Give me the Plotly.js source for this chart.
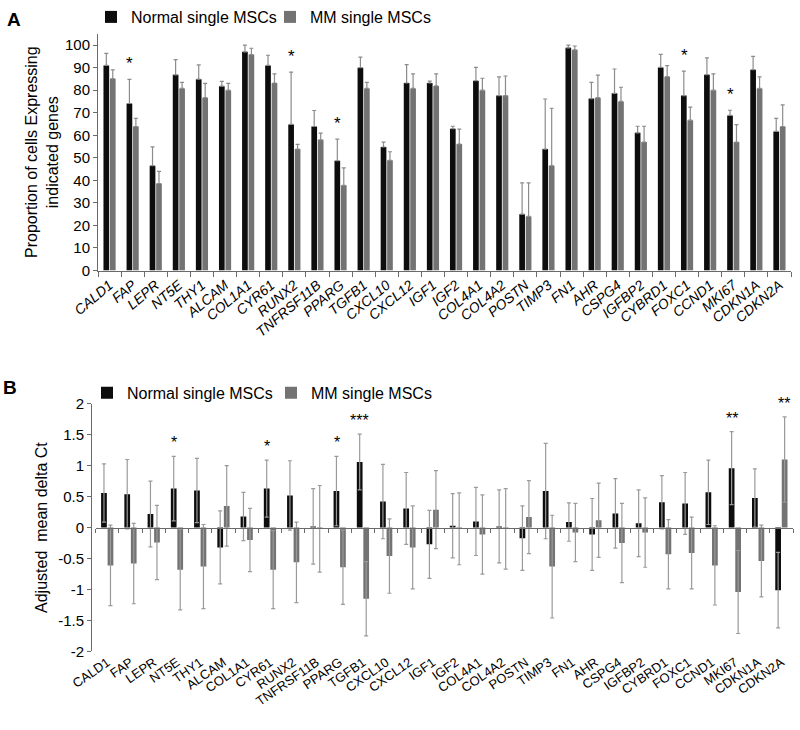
<!DOCTYPE html>
<html>
<head>
<meta charset="utf-8">
<script src="https://cdn.plot.ly/plotly-3.0.1.min.js"></script>
<style>html,body{margin:0;padding:0;background:#fff;}#chart{width:800px;height:730px;}</style>
</head>
<body>
<div id="chart"></div>
<script>
// ---------- DATA ----------
var genes = ['CALD1','FAP','LEPR','NT5E','THY1','ALCAM','COL1A1','CYR61','RUNX2','TNFRSF11B','PPARG','TGFB1','CXCL10','CXCL12','IGF1','IGF2','COL4A1','COL4A2','POSTN','TIMP3','FN1','AHR','CSPG4','IGFBP2','CYBRD1','FOXC1','CCND1','MKI67','CDKN1A','CDKN2A'];
var seriesNames = ['Normal single MSCs', 'MM single MSCs'];

// Panel A: proportion of cells expressing (%), with upper error
var normalA    = [91, 74.1, 46.5, 86.8, 84.9, 81.8, 97, 91, 64.8, 63.9, 48.7, 90, 54.8, 83.2, 83.2, 62.9, 84.2, 77.6, 25, 53.9, 98.8, 76.3, 78.6, 61.1, 90.1, 77.6, 86.9, 68.8, 89.1, 61.7];
var normalAErr = [5.3, 10.7, 8.4, 6.8, 6.3, 2.1, 3, 4.5, 23.2, 7.1, 9.6, 4.7, 2.2, 8.1, 0.8, 1.1, 5.9, 8.3, 13.9, 22.2, 1.2, 7.2, 10.8, 2.9, 5.8, 10.9, 7.4, 2.3, 5.9, 5.8];
var mmA        = [85.1, 63.9, 38.6, 80.8, 76.7, 80, 95.8, 83.2, 53.9, 58, 37.8, 80.8, 48.9, 80.8, 81.9, 56.1, 80, 77.6, 24, 46.5, 97.9, 76.7, 75, 57, 86, 66.7, 80, 57, 80.8, 63.9];
var mmAErr     = [3.9, 3.6, 5.4, 2.7, 6.3, 3, 2.8, 4, 2.1, 3, 7.7, 2.7, 3.8, 6.4, 5.3, 6.6, 5.3, 8.7, 14.9, 25.5, 1.7, 10, 6.3, 7, 4.9, 5.8, 7.2, 7.7, 5.1, 9.6];
var sigA       = ['', '*', '', '', '', '', '', '', '*', '', '*', '', '', '', '', '', '', '', '', '', '', '', '', '', '', '*', '', '*', '', ''];

// Panel B: adjusted mean delta Ct, symmetric error
var normalB    = [0.56, 0.54, 0.22, 0.63, 0.60, -0.32, 0.18, 0.63, 0.52, 0.02, 0.59, 1.06, 0.42, 0.31, -0.27, 0.03, 0.10, 0.02, -0.17, 0.59, 0.09, -0.11, 0.23, 0.07, 0.41, 0.39, 0.57, 0.96, 0.48, -1.01];
var normalBErr = [0.47, 0.56, 0.53, 0.52, 0.52, 0.59, 0.39, 0.46, 0.56, 0.61, 0.56, 0.45, 0.60, 0.58, 0.55, 0.52, 0.55, 0.59, 0.52, 0.77, 0.31, 0.58, 0.56, 0.54, 0.43, 0.50, 0.52, 0.59, 0.47, 0.61];
var mmB        = [-0.61, -0.58, -0.24, -0.68, -0.63, 0.35, -0.20, -0.68, -0.56, -0.02, -0.64, -1.15, -0.46, -0.32, 0.29, -0.02, -0.11, -0.02, 0.17, -0.63, -0.08, 0.12, -0.25, -0.08, -0.43, -0.41, -0.61, -1.04, -0.54, 1.10];
var mmBErr     = [0.65, 0.65, 0.60, 0.65, 0.68, 0.65, 0.51, 0.63, 0.65, 0.70, 0.60, 0.60, 0.60, 0.67, 0.63, 0.58, 0.64, 0.65, 0.59, 0.83, 0.47, 0.60, 0.64, 0.56, 0.56, 0.58, 0.64, 0.67, 0.58, 0.69];
var sigB       = ['', '', '', '*', '', '', '', '*', '', '', '*', '***', '', '', '', '', '', '', '', '', '', '', '', '', '', '', '', '**', '', '**'];

var yTicksA = [0, 10, 20, 30, 40, 50, 60, 70, 80, 90, 100];
var yTicksB = [-2, -1.5, -1, -0.5, 0, 0.5, 1, 1.5, 2];
var yTickTextB = ['-2', '-1.5', '-1', '-0.5', '0', '0.5', '1', '1.5', '2'];

// ---------- STYLE ----------
var FONT = 'Liberation Sans, Arial, sans-serif';
var BLACK = '#0d0d0d', GRAY = '#737373', ERR = '#8c8c8c', AXIS = '#6a6a6a';
var zerosA = genes.map(function(){ return 0; });

var traces = [
  {type:'bar', name:seriesNames[0], x:genes, y:normalA, xaxis:'x', yaxis:'y', legend:'legend',
   marker:{color:BLACK}, error_y:{type:'data', symmetric:false, array:normalAErr, arrayminus:zerosA, color:ERR, thickness:1.2, width:2}},
  {type:'bar', name:seriesNames[1], x:genes, y:mmA, xaxis:'x', yaxis:'y', legend:'legend2',
   marker:{color:GRAY}, error_y:{type:'data', symmetric:false, array:mmAErr, arrayminus:zerosA, color:ERR, thickness:1.2, width:2}},
  {type:'bar', name:seriesNames[0], x:genes, y:normalB, xaxis:'x2', yaxis:'y2', legend:'legend3',
   marker:{color:BLACK}, error_y:{type:'data', array:normalBErr, color:'#9a9a9a', thickness:1.2, width:2}},
  {type:'bar', name:seriesNames[1], x:genes, y:mmB, xaxis:'x2', yaxis:'y2', legend:'legend4',
   marker:{color:GRAY}, error_y:{type:'data', array:mmBErr, color:'#9a9a9a', thickness:1.2, width:2}},
  {type:'scatter', mode:'markers', x:genes, y:genes.map(function(){return 0;}), xaxis:'x3', yaxis:'y2',
   marker:{opacity:0}, showlegend:false, hoverinfo:'skip'}
];

var annotations = [
  {text:'<b>A</b>', xref:'paper', yref:'paper', x:14/800, y:1-16/730, xanchor:'center', yanchor:'middle', showarrow:false, font:{family:FONT, size:19, color:'#000'}},
  {text:'<b>B</b>', xref:'paper', yref:'paper', x:10/800, y:1-386/730, xanchor:'center', yanchor:'middle', showarrow:false, font:{family:FONT, size:19, color:'#000'}}
];
genes.forEach(function(g, i){
  if (sigA[i]) {
    annotations.push({text:sigA[i], xref:'x', yref:'y', x:g, y:normalA[i]+normalAErr[i], xshift:-3, yshift:4,
      xanchor:'center', yanchor:'bottom', showarrow:false, font:{family:FONT, size:17, color:'#000'}});
  }
  if (sigB[i]) {
    var topN = normalB[i] + normalBErr[i], topM = mmB[i] + mmBErr[i];
    var useN = topN >= topM;
    annotations.push({text:sigB[i], xref:'x2', yref:'y2', x:g, y:useN ? topN : topM, xshift:useN ? -3 : 3, yshift:3,
      xanchor:'center', yanchor:'bottom', showarrow:false, font:{family:FONT, size:16, color:'#000'}});
  }
});

function legendAt(px, py) {
  return {x:px/800, y:1-py/730, xanchor:'left', yanchor:'middle', orientation:'h', bgcolor:'rgba(0,0,0,0)',
    font:{family:FONT, size:16, color:'#000'}, itemwidth:30, tracegroupgap:0};
}

var layout = {
  width:800, height:730,
  margin:{l:0, r:0, t:0, b:0},
  paper_bgcolor:'#fff', plot_bgcolor:'rgba(0,0,0,0)',
  font:{family:FONT, color:'#000'},
  barmode:'group', bargap:0.44, bargroupgap:0.12,
  showlegend:true,
  legend: legendAt(91, 13),
  legend2: legendAt(270, 13),
  legend3: legendAt(87, 391),
  legend4: legendAt(271, 391),
  xaxis:{domain:[98/800, 791/800], anchor:'y', type:'category', range:[-0.5, 29.5],
    showline:true, linecolor:AXIS, linewidth:1, ticks:'outside', tickson:'boundaries', ticklen:5, tickcolor:AXIS,
    tickangle:-40, tickfont:{family:FONT, size:14, style:'italic', color:'#000'}, showgrid:false, zeroline:false},
  yaxis:{domain:[1-268/730, 1-30/730], anchor:'x', range:[0, 105], tickvals:yTicksA,
    showline:true, linecolor:AXIS, linewidth:1, ticks:'outside', ticklen:4, tickcolor:AXIS,
    tickfont:{family:FONT, size:15, color:'#000'}, showgrid:false, zeroline:false,
    title:{text:'Proportion of cells Expressing<br>indicated genes', font:{family:FONT, size:16, color:'#000'}, standoff:2}},
  xaxis2:{domain:[95.6/800, 793/800], anchor:'y2', type:'category', range:[-0.5, 29.5],
    showline:false, ticks:'', tickangle:-35, tickfont:{family:FONT, size:13, color:'#000'}, showgrid:false, zeroline:false},
  xaxis3:{domain:[95.6/800, 793/800], overlaying:'x2', anchor:'free', position:(1-651/730 + 1-402/730)/2,
    type:'category', range:[-0.5, 29.5], showline:true, linecolor:AXIS, linewidth:1, ticks:'outside', tickson:'boundaries',
    ticklen:4, tickcolor:AXIS, showticklabels:false, showgrid:false, zeroline:false},
  yaxis2:{domain:[1-651/730, 1-402/730], anchor:'free', position:91/800, range:[-2, 2], tickvals:yTicksB, ticktext:yTickTextB,
    showline:true, linecolor:AXIS, linewidth:1, ticks:'outside', ticklen:4, tickcolor:AXIS,
    tickfont:{family:FONT, size:15, color:'#000'}, showgrid:false, zeroline:false,
    title:{text:'Adjusted&nbsp; mean delta Ct', font:{family:FONT, size:16, color:'#000'}, standoff:5}},
  annotations:annotations
};

Plotly.newPlot('chart', traces, layout, {displayModeBar:false, staticPlot:true});
</script>
</body>
</html>
